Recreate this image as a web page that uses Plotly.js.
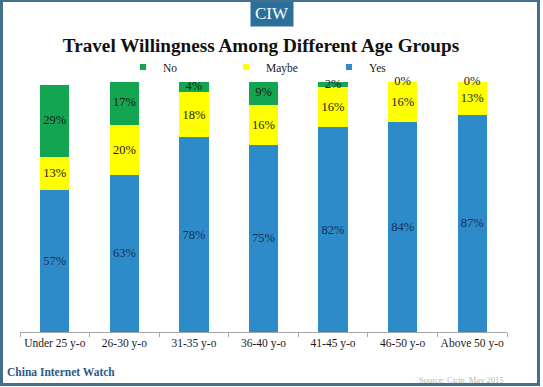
<!DOCTYPE html>
<html><head><meta charset="utf-8">
<script src="https://cdn.plot.ly/plotly-3.0.1.min.js"></script>
<style>
html,body{margin:0;padding:0;background:#fff;}
#wrap{position:relative;width:543px;height:387px;}
#chart{width:543px;height:387px;}
#frame{position:absolute;left:0;top:0;width:540px;height:386px;box-sizing:border-box;border:3px solid #41718d;border-top-width:2px;pointer-events:none;}
</style>
</head><body><div id="wrap"><div id="chart"></div><div id="frame"></div></div>
<script>
const categories = ['Under 25 y-o','26-30 y-o','31-35 y-o','36-40 y-o','41-45 y-o','46-50 y-o','Above 50 y-o'];
const yesValues = [57,63,78,75,82,84,87];
const maybeValues = [13,20,18,16,16,16,13];
const noValues = [29,17,4,9,2,0,0];
const seriesNames = ['Yes','Maybe','No'];
const seriesColors = ['#2e8bc9','#ffff00','#14a550'];

const L=20,R=36,T=82,B=55,FW=543,FH=387;
const W=FW-L-R,H=FH-T-B;
function px(x){return (x-L)/W;}
function py(y){return (FH-B-y)/H;}

const serif='Liberation Serif, Times New Roman, serif';
const seriesData=[yesValues,maybeValues,noValues];
const textColors=['#16305a','#1a1a1a','#1a1a1a'];

const traces=[];
seriesData.forEach((vals,i)=>{
  traces.push({
    type:'bar', x:categories, y:vals, name:seriesNames[i],
    marker:{color:seriesColors[i], line:{width:0}},
    texttemplate: i<2 ? '%{y}%' : '', textposition:'inside', insidetextanchor:'middle',
    textangle:0, constraintext:'none', cliponaxis:false,
    textfont:{family:serif, size:12.5, color:textColors[i]},
    showlegend:false, hoverinfo:'skip'
  });
});
// labels for the "No" segments (centred on each green segment, also shown for 0%)
traces.push({
  type:'scatter', mode:'text', x:categories,
  y:noValues.map((v,i)=>yesValues[i]+maybeValues[i]+v/2),
  text:noValues.map(v=>v+'%'), textposition:'middle center', cliponaxis:false,
  textfont:{family:serif, size:12.5, color:'#1a1a1a'}, showlegend:false, hoverinfo:'skip'
});
// legend entries
[2,1,0].forEach(i=>{
  traces.push({
    type:'scatter', mode:'markers', x:[null], y:[null], name:seriesNames[i],
    marker:{symbol:'square', size:6, color:seriesColors[i]}, showlegend:true
  });
});

const layout={
  width:FW, height:FH,
  margin:{l:L,r:R,t:T,b:B,pad:0},
  paper_bgcolor:'#ffffff', plot_bgcolor:'#ffffff',
  barmode:'stack', bargap:0.58,
  showlegend:true,
  legend:{orientation:'h', x:px(123), xanchor:'left', y:py(67), yanchor:'middle',
    traceorder:'normal', itemsizing:'trace', itemwidth:30,
    entrywidth:58, entrywidthmode:'pixels',
    font:{family:serif, size:11.5, color:'#1a1a1a'}, bgcolor:'rgba(0,0,0,0)'},
  title:{text:'Travel Willingness Among Different Age Groups',
    font:{family:serif, size:19.2, color:'#111', weight:'bold'},
    x:261/FW, xanchor:'center', xref:'container', y:1-45/FH, yanchor:'middle', yref:'container'},
  xaxis:{type:'category', showline:true, linecolor:'#a6a6a6', linewidth:1,
    ticks:'outside', tickson:'boundaries', ticklen:4, tickcolor:'#a6a6a6',
    tickangle:0, showgrid:false, zeroline:false, automargin:false,
    tickfont:{family:serif, size:11.5, color:'#1a1a1a'}, fixedrange:true},
  yaxis:{range:[0,100], visible:false, showgrid:false, zeroline:false, fixedrange:true},
  annotations:[
    {text:'CIW', xref:'paper', yref:'paper', x:px(272), y:py(13), xanchor:'center', yanchor:'middle',
     showarrow:false, bgcolor:'#2d6f9b', width:38, height:22, borderpad:2,
     font:{family:serif, size:17, color:'#ffffff'}},
    {text:'<b>China Internet Watch</b>', xref:'paper', yref:'paper', x:px(5), y:py(372), xanchor:'left', yanchor:'middle',
     showarrow:false, font:{family:serif, size:11.5, color:'#2c5a85'}},
    {text:'Source: Ctrip, May 2015', xref:'paper', yref:'paper', x:px(506), y:py(380), xanchor:'right', yanchor:'middle',
     showarrow:false, font:{family:serif, size:8.5, color:'#b5b5b5'}}
  ]
};
Plotly.newPlot('chart', traces, layout, {displayModeBar:false, staticPlot:true});
</script>
</body></html>
